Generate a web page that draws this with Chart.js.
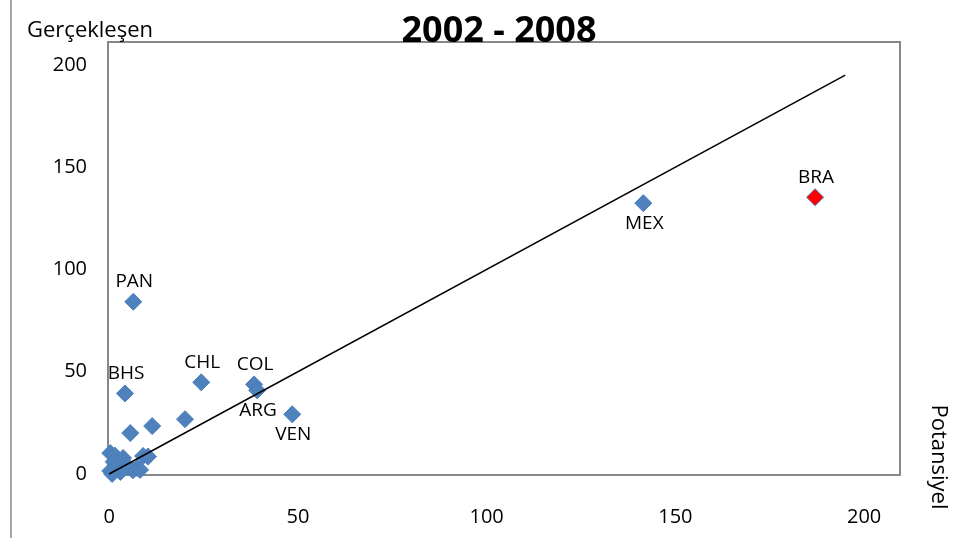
<!DOCTYPE html>
<html>
<head>
<meta charset="utf-8">
<script src="https://cdn.jsdelivr.net/npm/chart.js@4/dist/chart.umd.min.js"></script>
<style>
html,body{margin:0;padding:0;background:#fff;}
#wrap{width:960px;height:538px;position:relative;}
</style>
</head>
<body>
<div id="wrap"><canvas id="c" width="960" height="538"></canvas></div>
<script>
const titleText = "2002 - 2008";
const yAxisTitle = "Gerçekleşen";
const xAxisTitle = "Potansiyel";
const xTicks = [0, 50, 100, 150, 200];
const yTicks = [0, 50, 100, 150, 200];

// Labelled countries
const labelNames = ["PAN", "BHS", "CHL", "COL", "ARG", "VEN", "MEX", "BRA"];
const labelX =     [6.4,   4.2,   24.4,  38.4,  39.2,  48.5,  141.5, 187.0];
const labelY =     [84.2,  39.4,  44.8,  43.8,  40.9,  29.2,  132.4, 135.3];
const labelSide =  ["above","above","above","above","below","below","below","above"];

// Unlabelled countries (small values)
const otherX = [5.6, 11.4, 20.1, 0.3, 1.5, 3.7, 9.0, 7.4, 6.3, 0.3, 0.8, 2.4, 4.0, 8.2, 10.3, 5.0, 3.0, 1.2];
const otherY = [20.0, 23.4, 26.8, 10.2, 9.0, 7.8, 8.8, 2.9, 1.8, 1.5, 0.0, 4.0, 5.0, 2.0, 8.5, 3.5, 1.0, 6.0];

// Reference line y = x
const lineX = [0, 195];
const lineY = [0, 195];

const highlight = "BRA";

const pts = [];
const bg = [];
labelNames.forEach((n, i) => { pts.push({x: labelX[i], y: labelY[i]}); bg.push(n === highlight ? '#FF0000' : '#4F81BD'); });
otherX.forEach((x, i) => { pts.push({x: x, y: otherY[i]}); bg.push('#4F81BD'); });

const FONT = "'Open Sans', 'Liberation Sans', sans-serif";

const deco = {
  id: 'deco',
  beforeDatasetsDraw(chart) {
    const {ctx, chartArea: a} = chart;
    ctx.save();
    ctx.strokeStyle = '#878787';
    ctx.lineWidth = 2;
    ctx.strokeRect(a.left, a.top, a.right - a.left, a.bottom - a.top);
    ctx.restore();
  },
  afterDraw(chart) {
    const {ctx, scales} = chart;
    ctx.save();
    // left frame line
    ctx.strokeStyle = '#8a8a8a';
    ctx.lineWidth = 1.5;
    ctx.beginPath(); ctx.moveTo(11, 0); ctx.lineTo(11, 538); ctx.stroke();
    // title
    ctx.fillStyle = '#000';
    ctx.font = "bold 36px " + FONT;
    ctx.textAlign = 'center'; ctx.textBaseline = 'alphabetic';
    ctx.fillText(titleText, 499, 42);
    // y axis title
    ctx.font = "22px " + FONT;
    ctx.textAlign = 'left';
    ctx.fillText(yAxisTitle, 27, 37);
    // x axis title rotated
    ctx.save();
    ctx.translate(938, 457);
    ctx.rotate(Math.PI / 2);
    ctx.textAlign = 'center'; ctx.textBaseline = 'middle';
    ctx.fillText(xAxisTitle, 0, 0);
    ctx.restore();
    // point labels
    ctx.font = "19px " + FONT;
    ctx.textAlign = 'center'; ctx.textBaseline = 'middle';
    labelNames.forEach((n, i) => {
      const px = scales.x.getPixelForValue(labelX[i]);
      const py = scales.y.getPixelForValue(labelY[i]);
      const dy = labelSide[i] === 'above' ? -20 : 20;
      ctx.fillText(n, px + 1, py + dy);
    });
    ctx.restore();
  }
};

new Chart(document.getElementById('c'), {
  type: 'scatter',
  data: {
    datasets: [
      {
        type: 'line',
        data: lineX.map((x, i) => ({x: x, y: lineY[i]})),
        borderColor: '#000',
        borderWidth: 1.5,
        pointRadius: 0,
        fill: false,
        tension: 0,
        clip: false
      },
      {
        data: pts,
        pointStyle: 'rectRot',
        pointRadius: 8.5,
        pointHoverRadius: 8.5,
        pointBackgroundColor: bg,
        pointBorderColor: '#4A7EBB',
        pointBorderWidth: 1,
        showLine: false,
        clip: false
      }
    ]
  },
  options: {
    responsive: false,
    animation: false,
    events: [],
    layout: {padding: {left: 0, right: 60, top: 42, bottom: 0}},
    plugins: {legend: {display: false}, tooltip: {enabled: false}, title: {display: false}},
    scales: {
      x: {
        type: 'linear', min: -0.3, max: 209.5,
        grid: {display: false, drawTicks: false},
        border: {display: false},
        afterBuildTicks(s) { s.ticks = xTicks.map(v => ({value: v})); },
        afterFit(s) { s.height = 63; },
        ticks: {padding: 30, color: '#000', font: {family: FONT, size: 20}}
      },
      y: {
        type: 'linear', min: -0.5, max: 211.2,
        grid: {display: false, drawTicks: false},
        border: {display: false},
        afterBuildTicks(s) { s.ticks = yTicks.map(v => ({value: v})); },
        afterFit(s) { s.width = 108; },
        ticks: {padding: 21, color: '#000', font: {family: FONT, size: 20}}
      }
    }
  },
  plugins: [deco]
});
</script>
</body>
</html>
